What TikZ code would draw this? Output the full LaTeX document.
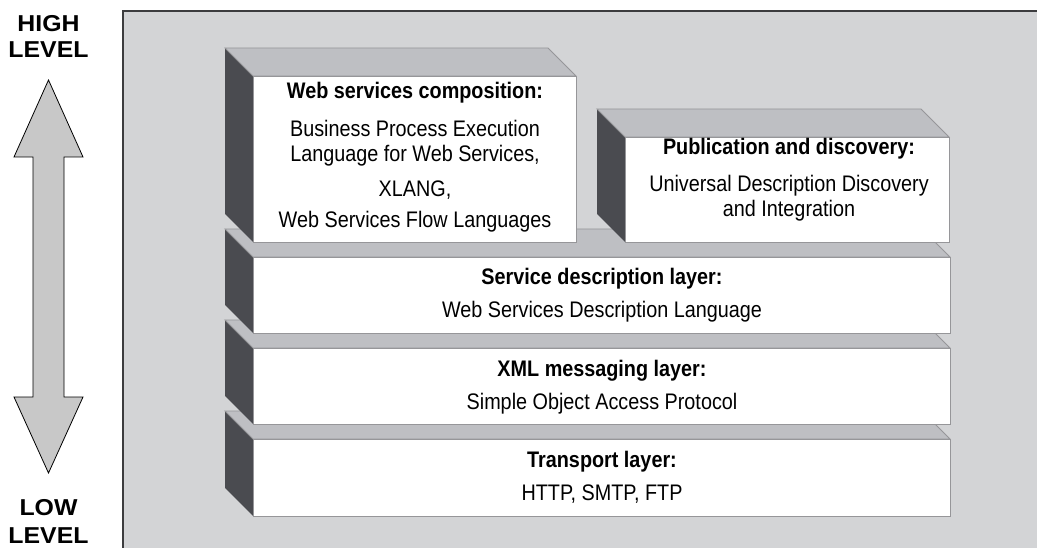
\documentclass[tikz,border=0pt]{standalone}
\usepackage{fontspec}
\setmainfont{Liberation Sans}[FakeStretch=0.88]
\newfontfamily\lvlfont{Liberation Sans}[FakeStretch=1.08]
\definecolor{panelbg}{RGB}{211,212,214}
\definecolor{panelline}{RGB}{60,60,62}
\definecolor{topface}{RGB}{190,191,195}
\definecolor{sideface}{RGB}{74,75,80}
\definecolor{edgecol}{RGB}{150,150,153}
\definecolor{arrowfill}{RGB}{200,200,200}
\newcommand\drawslab[4]{%
  \fill[sideface] (#1,#2) -- (#1-28,#2-28) -- (#1-28,#4-28) -- (#1,#4) -- cycle;
  \filldraw[fill=topface, draw=edgecol, line width=0.9] (#1,#2) -- (#1-28,#2-28) -- (#3-28,#2-28) -- (#3,#2) -- cycle;
  \filldraw[fill=white, draw=edgecol, line width=0.9] (#1,#2) rectangle (#3,#4);
}
\begin{document}
\begin{tikzpicture}[x=1pt,y=-1pt,
  ttl/.style={anchor=base, inner sep=0pt, font=\fontsize{22.5}{25}\selectfont\bfseries},
  txt/.style={anchor=base, inner sep=0pt, font=\fontsize{22.5}{25}\selectfont},
  lvl/.style={anchor=base, inner sep=0pt, font=\lvlfont\fontsize{23}{26}\selectfont\bfseries}]
\useasboundingbox (0,0) rectangle (1037,548);
% panel
\fill[panelbg] (123,11) rectangle (1037,548);
\draw[panelline, line width=1.6] (123,548) -- (123,11) -- (1037,11);
% level arrow
\filldraw[fill=arrowfill, draw=black, line width=0.8, line join=miter]
  (48.5,80) -- (83,157) -- (64,157) -- (64,397) -- (83,397) -- (48.5,473)
  -- (14,397) -- (33,397) -- (33,157) -- (14,157) -- cycle;
\node[lvl] (high) at (48.5,32) {HIGH};
\node[lvl] (highlevel) at (48.5,58) {LEVEL};
\node[lvl] (low) at (48.5,515) {LOW};
\node[lvl] (lowlevel) at (48.5,543) {LEVEL};
% layers, bottom to top
\drawslab{253}{439}{950}{516}
\drawslab{253}{348}{950}{424}
\drawslab{253}{257}{950}{333}
\drawslab{253}{76}{576}{242}
\drawslab{625}{137}{949}{242}
% texts
\node[ttl] (comp1) at (415,99) {Web services composition:};
\node[txt] (comp2) at (415,137) {Business Process Execution};
\node[txt] (comp3) at (415,162) {Language for Web Services,};
\node[txt] (comp4) at (415,197) {XLANG,};
\node[txt] (comp5) at (415,228) {Web Services Flow Languages};
\node[ttl] (pub1) at (789,155) {Publication and discovery:};
\node[txt] (pub2) at (789,192) {Universal Description Discovery};
\node[txt] (pub3) at (789,217) {and Integration};
\node[ttl] (svc1) at (602,285) {Service description layer:};
\node[txt] (svc2) at (602,318) {Web Services Description Language};
\node[ttl] (xml1) at (602,376) {XML messaging layer:};
\node[txt] (xml2) at (602,409) {Simple Object Access Protocol};
\node[ttl] (trn1) at (602,467) {Transport layer:};
\node[txt] (trn2) at (602,500) {HTTP, SMTP, FTP};
\end{tikzpicture}
\end{document}
